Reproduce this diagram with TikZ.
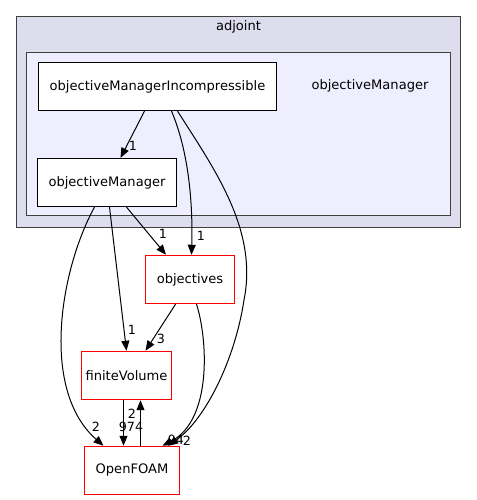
\documentclass[tikz,border=0pt]{standalone}
\usepackage{fontspec}
\setmainfont{DejaVu Sans}
\usetikzlibrary{arrows.meta}
\definecolor{outerfill}{HTML}{DDDDEE}
\definecolor{innerfill}{HTML}{EEEEFF}
\definecolor{frame}{HTML}{404040}
\definecolor{depred}{HTML}{FF0000}
\begin{document}
\begin{tikzpicture}[x=0.75pt,y=-0.75pt,
  box/.style={draw=black,fill=white,line width=0.9pt,minimum height=36pt,inner sep=0pt,font=\fontsize{9.8}{11}\selectfont},
  redbox/.style={box,draw=depred,line width=1.1pt},
  lbl/.style={font=\fontsize{9.5}{11}\selectfont,inner sep=0pt},
  dep/.style={draw=black,line width=0.75pt,-{Triangle[length=7.5pt,width=6pt]}}]
\useasboundingbox (0,0) rectangle (477,500);
\node[draw=frame,fill=outerfill,line width=0.9pt,minimum width=333pt,minimum height=158.25pt,inner sep=0pt] (adjoint) at (238.5,122) {};
\node[lbl,font=\fontsize{9.8}{11}\selectfont] (adjointlbl) at (238.5,27) {adjoint};
\node[draw=frame,fill=innerfill,line width=0.9pt,minimum width=318pt,minimum height=122.25pt,inner sep=0pt] (inner) at (238.5,134) {};
\node[lbl,font=\fontsize{9.8}{11}\selectfont] (innerlbl) at (370,86) {objectiveManager};
\node[box,minimum width=178.5pt] (omi) at (157.5,86.5) {objectiveManagerIncompressible};
\node[box,minimum width=104.25pt] (om) at (107,182.5) {objectiveManager};
\node[redbox,minimum width=66.75pt] (obj) at (190,279.5) {objectives};
\node[redbox,minimum width=67.5pt] (fv) at (126.5,375.5) {finiteVolume};
\node[redbox,minimum width=71.25pt] (of) at (132,470.5) {OpenFOAM};
% edges
\draw[dep] ([xshift=-9.75pt]omi.south) -- ([xshift=10.125pt]om.north);
\node[lbl] (l1) at (133,146) {1};
\draw[dep] ([xshift=10.5pt]omi.south) .. controls (188,150) and (193,200) .. ([xshift=1.125pt]obj.north);
\node[lbl] (l2) at (201,236) {1};
\draw[dep] ([xshift=15pt]omi.south) .. controls (215,170) and (258,230) .. (244,300) .. controls (235,360) and (205,420) .. ([xshift=27pt]of.north);
\node[lbl] (l3) at (187,441) {2};
\draw[dep] ([xshift=14.625pt]om.south) -- ([xshift=-18pt]obj.north);
\node[lbl] (l4) at (163,234) {1};
\draw[dep] ([xshift=1.875pt]om.south) -- (fv.north);
\node[lbl] (l5) at (132,330) {1};
\draw[dep] ([xshift=-9.375pt]om.south) .. controls (60,270) and (40,390) .. ([xshift=-21.375pt]of.north);
\node[lbl] (l6) at (96,427) {2};
\draw[dep] ([xshift=-10.875pt]obj.south) -- ([xshift=14.25pt]fv.north);
\node[lbl] (l7) at (161,339) {3};
\draw[dep] ([xshift=4.875pt]obj.south) .. controls (208,340) and (212,420) .. ([xshift=22.875pt]of.north);
\node[lbl] (l8) at (176,440) {94};
\draw[dep] ([xshift=-2.25pt]fv.south) -- ([xshift=-6.375pt]of.north);
\node[lbl] (l9) at (131,427) {974};
\draw[dep] ([xshift=6.375pt]of.north) -- ([xshift=10.5pt]fv.south);
\node[lbl] (l10) at (132,414) {2};
\end{tikzpicture}
\end{document}
